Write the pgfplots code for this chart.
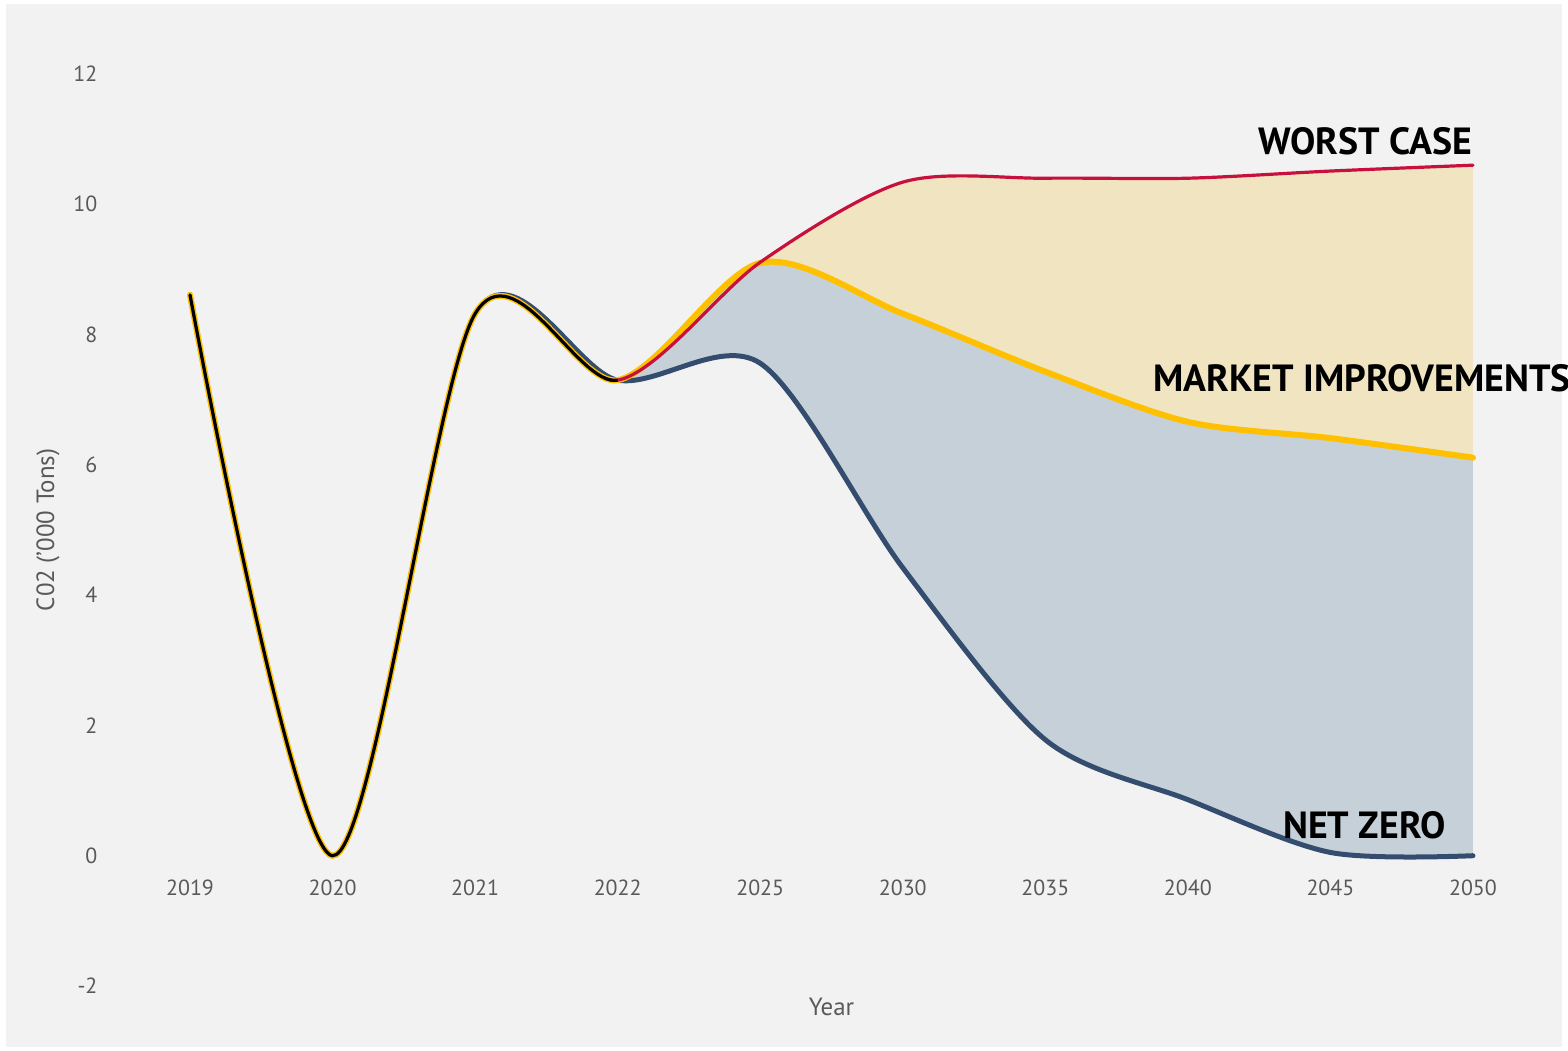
\documentclass[border=0pt]{standalone}
\usepackage{fontspec}
\setmainfont{PT Sans}
\usepackage{pgfplots}
\pgfplotsset{compat=1.18}
\usepgfplotslibrary{fillbetween}
\usepackage{pgfplotstable}
\definecolor{bg}{HTML}{F2F2F2}
\definecolor{tickgray}{HTML}{595959}
\definecolor{worstred}{HTML}{C8103E}
\definecolor{mkyellow}{HTML}{FFC000}
\definecolor{navy}{HTML}{344D6E}
\definecolor{beige}{HTML}{F0E4C1}
\definecolor{bluegrey}{HTML}{C6D0D9}
\pgfplotstableread{
x worst market net
0 8.61 8.61 8.61
1 0.00 0.00 0.00
2 8.32 8.32 8.32
3 7.30 7.30 7.30
4 9.11 9.10 7.56
5 10.34 8.32 4.42
6 10.40 7.43 1.78
7 10.40 6.66 0.86
8 10.51 6.41 0.05
9 10.60 6.11 0.00
}\data
\begin{document}
\begin{tikzpicture}
\fill[white] (0bp,0bp) rectangle (784bp,525.5bp);
\fill[bg] (3bp,2bp) rectangle (781bp,523.5bp);
\begin{axis}[
  at={(95bp,32.5bp)}, anchor=south west,
  scale only axis, width=641.5bp, height=456bp,
  xmin=0, xmax=9, ymin=-2, ymax=12,
  axis line style={draw=none}, major tick style={draw=none},
  xtick={0,...,9},
  xticklabels={2019,2020,2021,2022,2025,2030,2035,2040,2045,2050},
  ytick={-2,0,2,4,6,8,10,12},
  /pgf/number format/assume math mode=true,
  ticklabel style={color=tickgray, font=\fontsize{11}{13}\selectfont},
  yticklabel style={anchor=east, xshift=-42.8bp},
  xticklabel style={anchor=base, yshift=45bp},
  xlabel={Year}, ylabel={C02 ('000 Tons)},
  label style={color=tickgray, font=\fontsize{12.5}{15}\selectfont},
  xlabel style={at={(rel axis cs:0.5,0)}, anchor=center, yshift=-10.5bp},
  ylabel style={at={(rel axis cs:0,0.5)}, anchor=center, yshift=71bp},
  clip=false,
  fill between/on layer=main,
]
\addplot[draw=none, smooth, name path=W] table[x=x,y=worst]{\data};
\addplot[draw=none, smooth, name path=M] table[x=x,y=market]{\data};
\addplot[draw=none, smooth, name path=N] table[x=x,y=net]{\data};
\addplot[beige] fill between[of=W and M, soft clip={domain=3:9}];
\addplot[bluegrey] fill between[of=M and N, soft clip={domain=3:9}];
\addplot[navy, line width=2.5bp, smooth, line cap=round] table[x=x,y=net]{\data};
\addplot[mkyellow, line width=3bp, smooth, line cap=round] table[x=x,y=market]{\data};
\begin{scope}
\clip (axis cs:2.9,-3) rectangle (axis cs:9.5,13);
\addplot[worstred, line width=1.6bp, smooth, line cap=round] table[x=x,y=worst]{\data};
\end{scope}
\begin{scope}
\clip (axis cs:-0.5,-3) rectangle (axis cs:3,13);
\addplot[black, line width=1.6bp, smooth, line cap=round] table[x=x,y=market]{\data};
\end{scope}
\end{axis}
\node[anchor=base east, font=\fontsize{19}{21}\selectfont\bfseries] at (739.5bp,448bp) {WORST CASE};
\node[anchor=base west, font=\fontsize{19}{21}\selectfont\bfseries] at (573bp,329.5bp) {MARKET IMPROVEMENTS};
\node[anchor=base east, font=\fontsize{19}{21}\selectfont\bfseries] at (726.5bp,106bp) {NET ZERO};
\pgfresetboundingbox
\path[use as bounding box] (0bp,0bp) rectangle (784bp,525.5bp);
\end{tikzpicture}
\end{document}
